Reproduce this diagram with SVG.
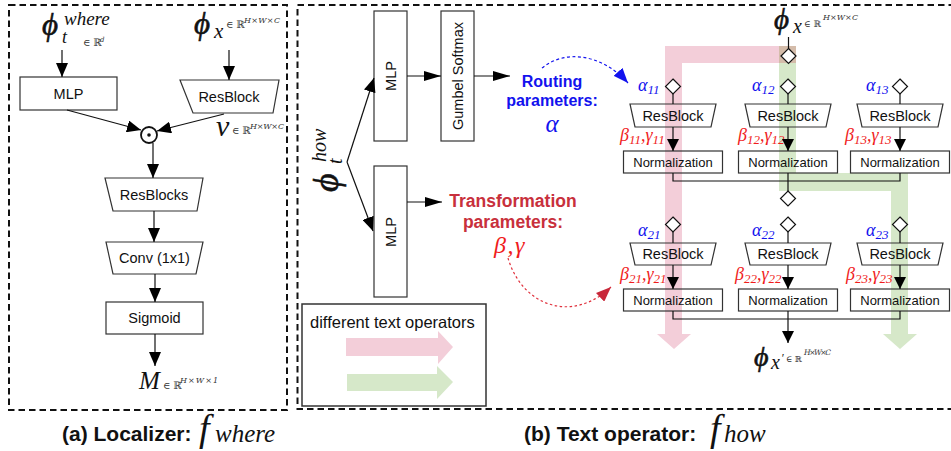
<svg xmlns="http://www.w3.org/2000/svg" width="951" height="451" viewBox="0 0 951 451">
<style>
.sans{font-family:"Liberation Sans",Arial,sans-serif;fill:#111}
.m{font-family:"Liberation Serif","DejaVu Serif",serif;font-style:italic;fill:#111}
.r{font-family:"DejaVu Serif","Liberation Serif",serif;fill:#333}
.box{fill:none;stroke:#333;stroke-width:1.2}
.panel{fill:none;stroke:#111;stroke-width:2;stroke-dasharray:6.5,4}
.ln{fill:none;stroke:#111;stroke-width:1.2}
.dia{fill:#fff;stroke:#111;stroke-width:1.2}
.lbl{font-size:14.5px;text-anchor:middle}
.nrm{font-size:13px;text-anchor:middle}
.blue{fill:#1212ee}
.red{fill:#f01c1c}
.crim{fill:#c8303c}
.g18{font-size:18px}
.s13{font-size:13px}
.phi{stroke:#111;stroke-width:0.6}
</style>
<defs>
<marker id="ah" markerUnits="userSpaceOnUse" markerWidth="14" markerHeight="12" refX="14" refY="6" orient="auto"><path d="M0,0 L14,6 L0,12 Z" fill="#000"/></marker>
<marker id="ahs" markerUnits="userSpaceOnUse" markerWidth="12" markerHeight="12" refX="12" refY="6" orient="auto"><path d="M0,0 L12,6 L0,12 Z" fill="#000"/></marker>
<marker id="ahl" markerUnits="userSpaceOnUse" markerWidth="17" markerHeight="10" refX="17" refY="5" orient="auto"><path d="M0,0 L17,5 L0,10 Z" fill="#000"/></marker>
<marker id="ahb" markerUnits="userSpaceOnUse" markerWidth="15" markerHeight="12" refX="15" refY="6" orient="auto"><path d="M0,0 L15,6 L0,12 Z" fill="#1212ee"/></marker>
<marker id="ahr" markerUnits="userSpaceOnUse" markerWidth="15" markerHeight="12" refX="15" refY="6" orient="auto"><path d="M0,0 L15,6 L0,12 Z" fill="#c8283a"/></marker>
</defs>
<rect width="951" height="451" fill="#fff"/>

<!-- panels -->
<rect x="9" y="5" width="278" height="405" class="panel"/>
<path d="M955,5 H297.5 V409 H955" class="panel"/>

<!-- routing bands -->
<g id="bands">
<path d="M665,46 H796 V63 H682 V334 H691 L674,349 L657,334 H665 Z" fill="#f3ced9"/>
<path d="M779,46 H796 V173 H908 V334 H917 L900,349 L883,334 H891 V191 H779 Z" fill="#d6e8c9"/>
<rect x="779" y="46" width="17" height="17" fill="#d4bcaa"/>
</g>

<!-- left panel nodes -->
<g id="phi_t_where">
<text class="m phi" x="42" y="35" font-size="31">ϕ</text>
<text class="m" x="64" y="25" font-size="19">where</text>
<text class="m" x="62" y="43" font-size="18">t</text>
<text class="r" x="83" y="46" font-size="10">∈ ℝ</text>
<text class="r" x="100" y="42" font-size="7" font-style="italic">d</text>
</g>
<g id="phi_x_left">
<text class="m phi" x="194" y="34" font-size="31">ϕ</text>
<text class="m" x="214" y="38" font-size="21">x</text>
<text class="r" x="226" y="28" font-size="10">∈ ℝ</text>
<text class="r" x="244" y="23" font-size="8" font-style="italic" textLength="36" lengthAdjust="spacing">H×W×C</text>
</g>
<g id="mlp_left">
<rect x="20" y="77" width="97" height="33" class="box"/>
<text class="sans lbl" x="68.5" y="99" font-size="15">MLP</text>
</g>
<g id="resblock_left">
<path d="M180,80 H279 L273,113 H193 Z" class="box"/>
<text class="sans lbl" x="229" y="102">ResBlock</text>
</g>
<g id="v_label">
<text class="m" x="216" y="136" font-size="30">v</text>
<text class="r" x="232" y="134" font-size="10">∈ ℝ</text>
<text class="r" x="250" y="129" font-size="8" font-style="italic" textLength="34" lengthAdjust="spacing">H×W×C</text>
</g>
<g id="hadamard">
<circle cx="149" cy="135" r="8" fill="#fff" stroke="#111" stroke-width="1.8"/>
<circle cx="149" cy="135" r="1.8" fill="#111"/>
</g>
<g id="resblocks">
<path d="M105,178 H203 L197,211 H113 Z" class="box"/>
<text class="sans lbl" x="154" y="200">ResBlocks</text>
</g>
<g id="conv">
<path d="M106,242 H203 L196,274 H113 Z" class="box"/>
<text class="sans lbl" x="154.5" y="263">Conv (1x1)</text>
</g>
<g id="sigmoid">
<rect x="106" y="302" width="97" height="32" class="box"/>
<text class="sans lbl" x="154.5" y="323">Sigmoid</text>
</g>
<g id="M_out">
<text class="m" x="139" y="389" font-size="25">M</text>
<text class="r" x="163" y="389" font-size="10">∈ ℝ</text>
<text class="r" x="180" y="383" font-size="8" font-style="italic" textLength="38" lengthAdjust="spacing">H×W×1</text>
</g>
<g id="caption_a">
<text class="sans" x="62" y="441" font-size="21" font-weight="bold">(a) Localizer:</text>
<text class="m" x="199" y="441" font-size="38">f</text>
<text class="m" x="215" y="442" font-size="25">where</text>
</g>

<!-- middle nodes -->
<g id="phi_t_how" transform="translate(338,192) rotate(-90)">
<text class="m phi" x="0" y="0" font-size="36">ϕ</text>
<text class="m" x="30" y="-12" font-size="20">how</text>
<text class="m" x="28" y="4" font-size="20">t</text>
</g>
<g id="mlp_top">
<rect x="374" y="11" width="33" height="130" class="box"/>
<text class="sans lbl" transform="translate(395.5,76) rotate(-90)">MLP</text>
</g>
<g id="gumbel">
<rect x="441" y="11" width="33" height="130" class="box"/>
<text class="sans lbl" transform="translate(462.5,76) rotate(-90)">Gumbel Softmax</text>
</g>
<g id="mlp_bottom">
<rect x="374" y="166" width="33" height="131" class="box"/>
<text class="sans lbl" transform="translate(395.5,232) rotate(-90)">MLP</text>
</g>
<g id="routing">
<text class="sans blue" x="552" y="87" font-size="16" font-weight="bold" text-anchor="middle">Routing</text>
<text class="sans blue" x="552" y="106" font-size="16" font-weight="bold" text-anchor="middle">parameters:</text>
<text class="m blue" x="552" y="132" font-size="25" text-anchor="middle">α</text>
</g>
<g id="transformation">
<text class="sans crim" x="513" y="207" font-size="17.5" font-weight="bold" text-anchor="middle">Transformation</text>
<text class="sans crim" x="513" y="228" font-size="17.5" font-weight="bold" text-anchor="middle">parameters:</text>
<text class="m red" x="510" y="253" font-size="24" text-anchor="middle" letter-spacing="1.5">β,γ</text>
</g>
<g id="legend">
<rect x="302" y="304" width="184" height="102" fill="none" stroke="#333" stroke-width="1.5"/>
<text class="sans" x="310" y="328" font-size="16.5">different text operators</text>
<path d="M346,338 H438 V331 L453,347 L438,364 V356 H346 Z" fill="#f3ced9"/>
<path d="M347,374 H437 V366 L453,382 L437,399 V391 H347 Z" fill="#d6e8c9"/>
</g>
<g id="caption_b">
<text class="sans" x="524" y="441" font-size="21" font-weight="bold">(b) Text operator:</text>
<text class="m" x="710" y="441" font-size="38">f</text>
<text class="m" x="724" y="442" font-size="25">how</text>
</g>

<!-- right operator grid -->
<g id="phi_x_in">
<text class="m phi" x="774" y="29" font-size="29">ϕ</text>
<text class="m" x="793" y="33" font-size="20">x</text>
<text class="r" x="804" y="27" font-size="9">∈ ℝ</text>
<text class="r" x="823" y="20" font-size="8" font-style="italic" textLength="35" lengthAdjust="spacing">H×W×C</text>
</g>
<g id="switch_in"><path d="M788.5,48.5 L796,56 L788.5,63.5 L781,56 Z" class="dia"/></g>

<g id="op11">
<text class="m blue g18" x="638" y="91">α<tspan class="s13" dy="3">11</tspan></text>
<path d="M673,79 L680.5,86.5 L673,94 L665.5,86.5 Z" class="dia"/>
<path d="M630,104 H716 L711,127 H635 Z" class="box"/>
<text class="sans lbl" x="673" y="121">ResBlock</text>
<text class="m red g18" x="620" y="141">β<tspan class="s13" dy="3">11</tspan><tspan dy="-3">,γ</tspan><tspan class="s13" dy="3">11</tspan></text>
<rect x="623.5" y="151" width="99" height="22" class="box"/>
<text class="sans nrm" x="673" y="167">Normalization</text>
</g>
<g id="op12">
<text class="m blue g18" x="752" y="91">α<tspan class="s13" dy="3">12</tspan></text>
<path d="M788,79 L795.5,86.5 L788,94 L780.5,86.5 Z" class="dia"/>
<path d="M745,104 H831 L826,127 H750 Z" class="box"/>
<text class="sans lbl" x="788" y="121">ResBlock</text>
<text class="m red g18" x="738" y="141">β<tspan class="s13" dy="3">12</tspan><tspan dy="-3">,γ</tspan><tspan class="s13" dy="3">12</tspan></text>
<rect x="738.5" y="151" width="99" height="22" class="box"/>
<text class="sans nrm" x="788" y="167">Normalization</text>
</g>
<g id="op13">
<text class="m blue g18" x="866" y="91">α<tspan class="s13" dy="3">13</tspan></text>
<path d="M900,79 L907.5,86.5 L900,94 L892.5,86.5 Z" class="dia"/>
<path d="M857,104 H943 L938,127 H862 Z" class="box"/>
<text class="sans lbl" x="900" y="121">ResBlock</text>
<text class="m red g18" x="845" y="141">β<tspan class="s13" dy="3">13</tspan><tspan dy="-3">,γ</tspan><tspan class="s13" dy="3">13</tspan></text>
<rect x="850.5" y="151" width="99" height="22" class="box"/>
<text class="sans nrm" x="900" y="167">Normalization</text>
</g>
<g id="switch_mid"><path d="M788,191 L795.5,198.5 L788,206 L780.5,198.5 Z" class="dia"/></g>

<g id="op21">
<text class="m blue g18" x="638" y="236">α<tspan class="s13" dy="3">21</tspan></text>
<path d="M673,217 L680.5,224.5 L673,232 L665.5,224.5 Z" class="dia"/>
<path d="M630,243 H716 L711,265 H635 Z" class="box"/>
<text class="sans lbl" x="673" y="259">ResBlock</text>
<text class="m red g18" x="620" y="280">β<tspan class="s13" dy="3">21</tspan><tspan dy="-3">,γ</tspan><tspan class="s13" dy="3">21</tspan></text>
<rect x="623.5" y="289" width="99" height="22" class="box"/>
<text class="sans nrm" x="673" y="305">Normalization</text>
</g>
<g id="op22">
<text class="m blue g18" x="752" y="236">α<tspan class="s13" dy="3">22</tspan></text>
<path d="M788,217 L795.5,224.5 L788,232 L780.5,224.5 Z" class="dia"/>
<path d="M745,243 H831 L826,265 H750 Z" class="box"/>
<text class="sans lbl" x="788" y="259">ResBlock</text>
<text class="m red g18" x="735" y="280">β<tspan class="s13" dy="3">22</tspan><tspan dy="-3">,γ</tspan><tspan class="s13" dy="3">22</tspan></text>
<rect x="738.5" y="289" width="99" height="22" class="box"/>
<text class="sans nrm" x="788" y="305">Normalization</text>
</g>
<g id="op23">
<text class="m blue g18" x="866" y="236">α<tspan class="s13" dy="3">23</tspan></text>
<path d="M900,217 L907.5,224.5 L900,232 L892.5,224.5 Z" class="dia"/>
<path d="M857,243 H943 L938,265 H862 Z" class="box"/>
<text class="sans lbl" x="900" y="259">ResBlock</text>
<text class="m red g18" x="846" y="280">β<tspan class="s13" dy="3">23</tspan><tspan dy="-3">,γ</tspan><tspan class="s13" dy="3">23</tspan></text>
<rect x="850.5" y="289" width="99" height="22" class="box"/>
<text class="sans nrm" x="900" y="305">Normalization</text>
</g>
<g id="phi_x_out">
<text class="m phi" x="754" y="366" font-size="28">ϕ</text>
<text class="m" x="771" y="369" font-size="20">x</text>
<text class="m" x="781" y="362" font-size="12">′</text>
<text class="r" x="786" y="362" font-size="8.5">∈ ℝ</text>
<text class="r" x="804" y="355" font-size="7.5" font-style="italic" textLength="27" lengthAdjust="spacing">H×W×C</text>
</g>

<!-- connectors -->
<g id="connectors" class="ln">
<line x1="62" y1="50" x2="62" y2="77" marker-end="url(#ah)"/>
<line x1="229" y1="50" x2="229" y2="80" marker-end="url(#ah)"/>
<line x1="67" y1="110" x2="141" y2="130" marker-end="url(#ah)"/>
<line x1="224" y1="114" x2="157" y2="131" marker-end="url(#ah)"/>
<line x1="153" y1="143" x2="153" y2="178" marker-end="url(#ah)"/>
<line x1="154" y1="211" x2="154" y2="242" marker-end="url(#ah)"/>
<line x1="155" y1="274" x2="155" y2="302" marker-end="url(#ah)"/>
<line x1="155" y1="334" x2="155" y2="366" marker-end="url(#ah)"/>

<line x1="347" y1="162" x2="374" y2="78" marker-end="url(#ah)"/>
<line x1="347" y1="162" x2="373" y2="231" marker-end="url(#ah)"/>
<line x1="407" y1="76" x2="441" y2="76" marker-end="url(#ahl)"/>
<line x1="474" y1="76" x2="510" y2="76" marker-end="url(#ahl)"/>
<line x1="407" y1="202" x2="442" y2="202" marker-end="url(#ahl)"/>
<path d="M542,68 C565,49 602,54 628,83" stroke="#1212ee" stroke-width="1.2" stroke-dasharray="3,2.5" marker-end="url(#ahb)"/>
<path d="M508,258 C522,306 572,324 611,287" stroke="#e0303c" stroke-width="1.2" stroke-dasharray="2.5,2.5" marker-end="url(#ahr)"/>

<line x1="788.5" y1="37" x2="788.5" y2="48.5"/>
<line x1="673" y1="94" x2="673" y2="104"/>
<line x1="788" y1="94" x2="788" y2="104"/>
<line x1="900" y1="94" x2="900" y2="104"/>
<line x1="673" y1="127" x2="673" y2="151" marker-end="url(#ahs)"/>
<line x1="788" y1="127" x2="788" y2="151" marker-end="url(#ahs)"/>
<line x1="900" y1="127" x2="900" y2="151" marker-end="url(#ahs)"/>
<path d="M673,173 V181 H900 V173"/>
<line x1="788" y1="173" x2="788" y2="191"/>
<line x1="673" y1="232" x2="673" y2="243"/>
<line x1="788" y1="232" x2="788" y2="243"/>
<line x1="900" y1="232" x2="900" y2="243"/>
<line x1="673" y1="265" x2="673" y2="289" marker-end="url(#ahs)"/>
<line x1="788" y1="265" x2="788" y2="289" marker-end="url(#ahs)"/>
<line x1="900" y1="265" x2="900" y2="289" marker-end="url(#ahs)"/>
<path d="M673,311 V319 H900 V311"/>
<line x1="788" y1="311" x2="788" y2="343" marker-end="url(#ahs)"/>
</g>
</svg>
